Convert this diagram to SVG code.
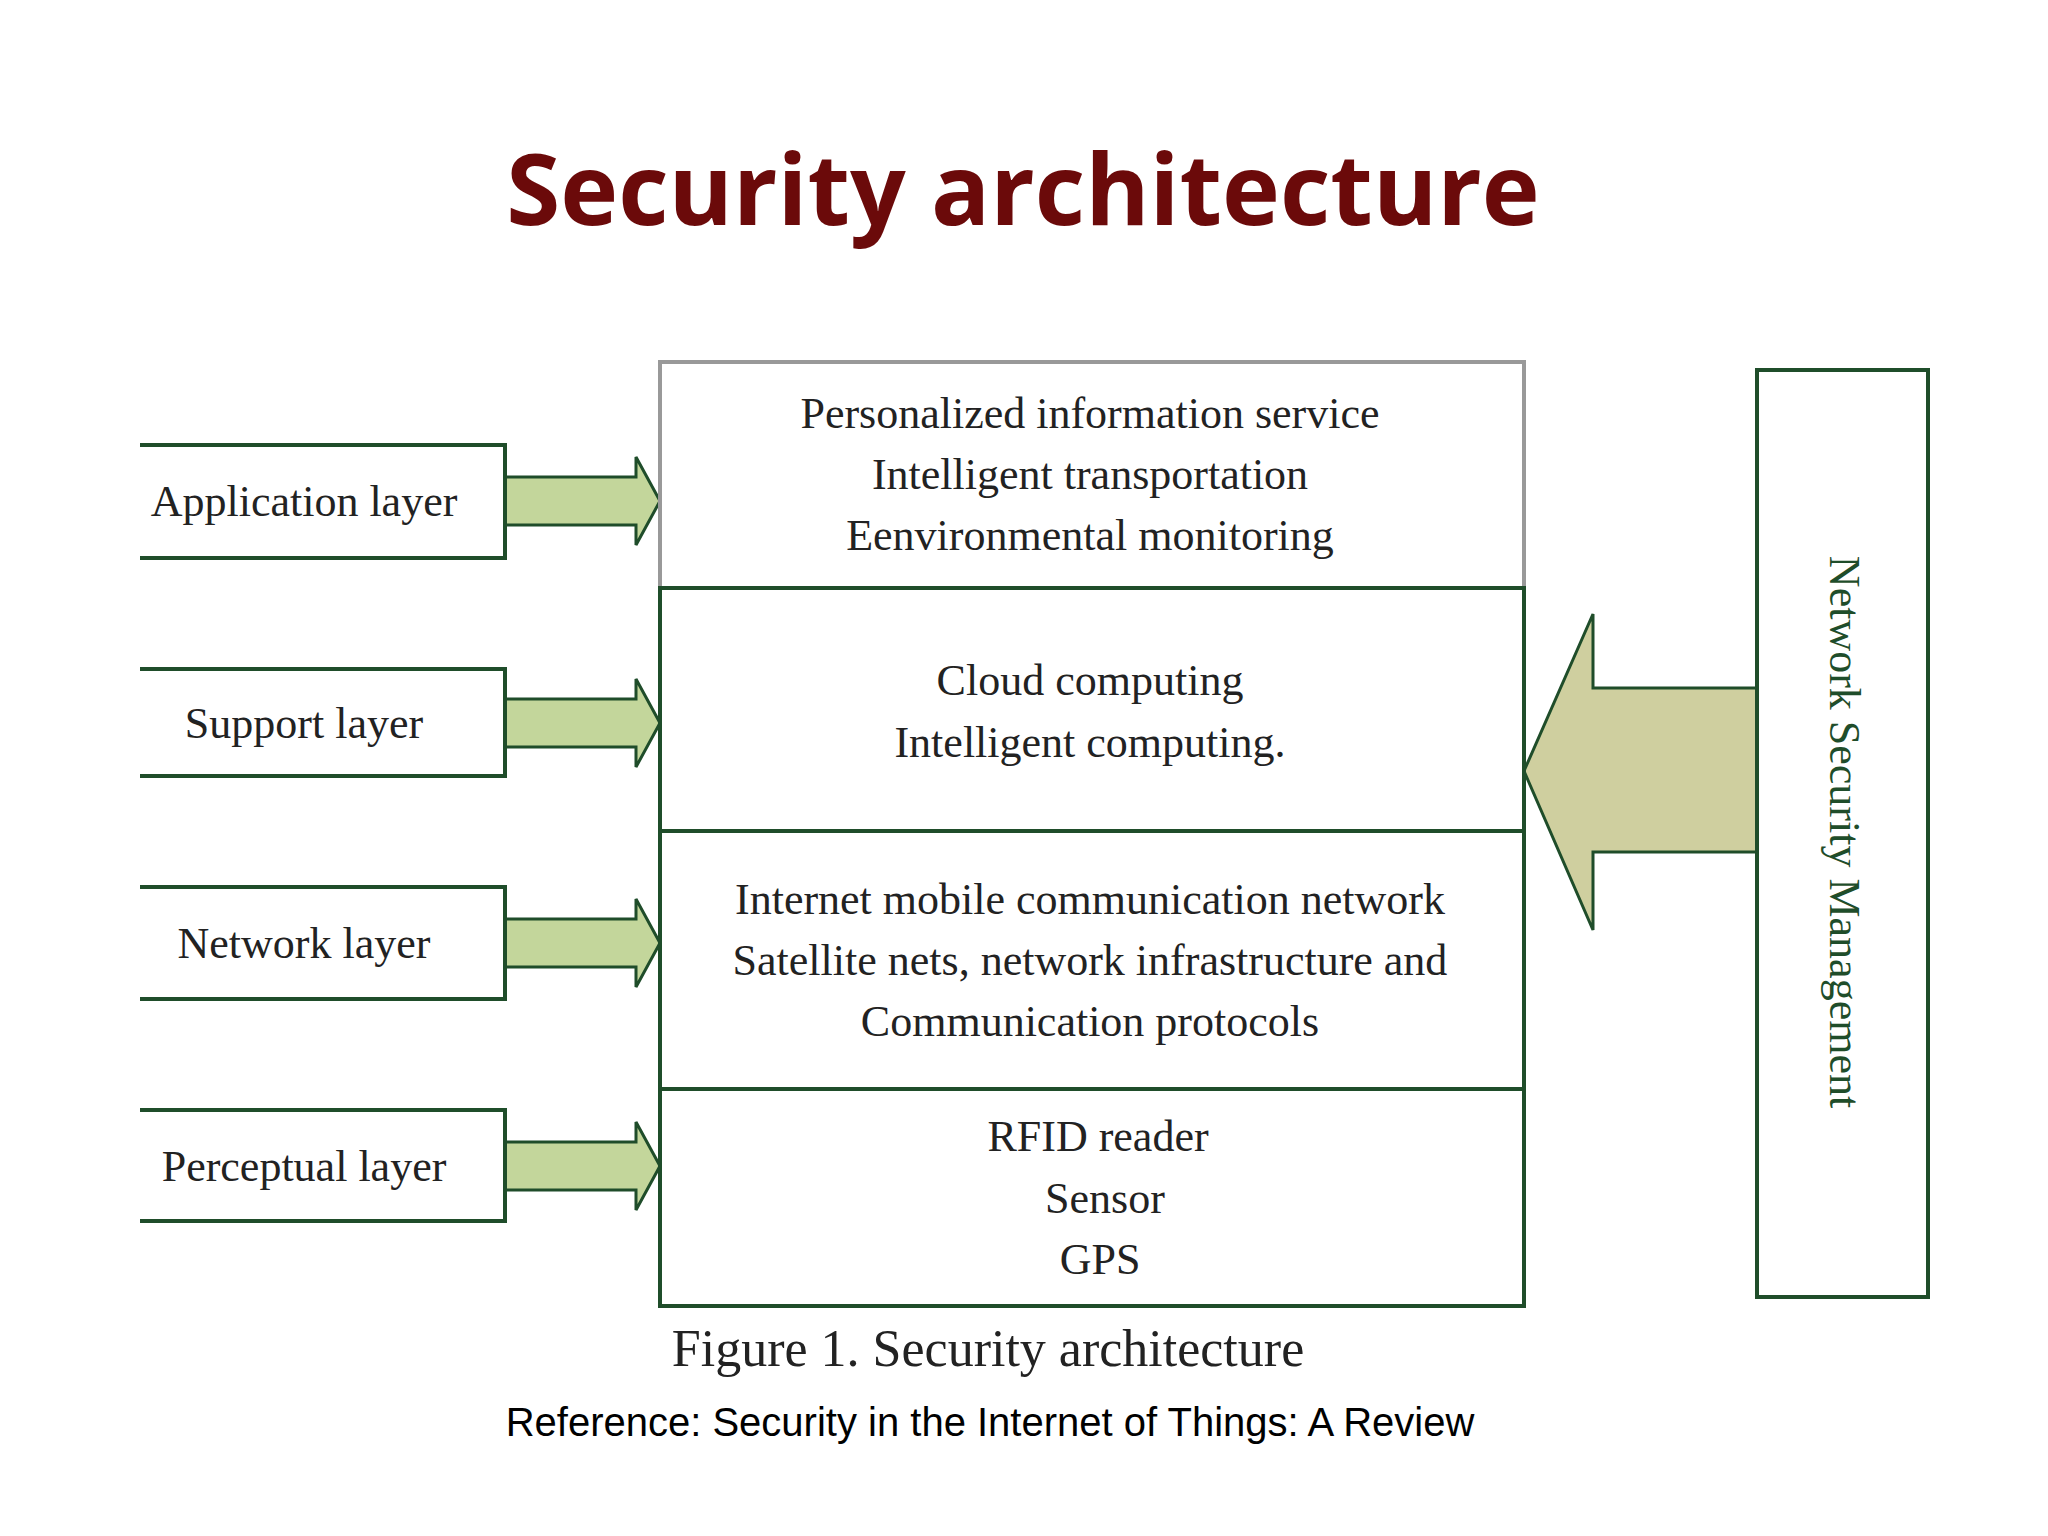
<svg xmlns="http://www.w3.org/2000/svg" width="2048" height="1536" viewBox="0 0 2048 1536">
<style>
.bx{fill:#fff;stroke:#1f4d2a;stroke-width:4}
.lb{fill:#fff;stroke:#1f4d2a;stroke-width:4}
.t{font-family:"Liberation Serif",serif;font-size:44px;fill:#222;text-anchor:middle;dominant-baseline:central}
.ar{fill:#c3d69b;stroke:#1f4d2a;stroke-width:3}
</style>
<rect width="2048" height="1536" fill="#fff"/>
<text x="1023" y="225" font-family="Open Sans, sans-serif" font-weight="bold" font-size="98" fill="#6b0a0a" text-anchor="middle">Security architecture</text>
<g id="connectors">
<path class="ar" d="M505,477 H636 V457 L660,501 L636,545 V525 H505 Z"/>
<path class="ar" d="M505,699 H636 V679 L660,723 L636,767 V747 H505 Z"/>
<path class="ar" d="M505,919 H636 V899 L660,943 L636,987 V967 H505 Z"/>
<path class="ar" d="M505,1142 H636 V1122 L660,1166 L636,1210 V1190 H505 Z"/>
<path d="M1757,688 H1593 V614 L1524,771 L1593,930 V852 H1757 Z" fill="#cfcf9f" stroke="#1f4d2a" stroke-width="3"/>
</g>
<g id="app"><path class="lb" d="M140,445 H505 V558 H140"/><text class="t" x="304" y="501">Application layer</text></g>
<g id="sup"><path class="lb" d="M140,669 H505 V776 H140"/><text class="t" x="304" y="723">Support layer</text></g>
<g id="net"><path class="lb" d="M140,887 H505 V999 H140"/><text class="t" x="304" y="943">Network layer</text></g>
<g id="per"><path class="lb" d="M140,1110 H505 V1221 H140"/><text class="t" x="304" y="1166">Perceptual  layer</text></g>
<g id="c1"><rect x="660" y="362" width="864" height="226" fill="#fff" stroke="#999" stroke-width="4"/>
<text class="t" x="1090" y="413">Personalized information service</text><text class="t" x="1090" y="474">Intelligent transportation</text><text class="t" x="1090" y="535">Eenvironmental monitoring</text></g>
<g id="c2"><rect class="bx" x="660" y="588" width="864" height="243"/>
<text class="t" x="1090" y="680">Cloud computing</text><text class="t" x="1090" y="742">Intelligent computing.</text></g>
<g id="c3"><rect class="bx" x="660" y="831" width="864" height="258"/>
<text class="t" x="1090" y="899">Internet  mobile communication network</text><text class="t" x="1090" y="960">Satellite nets, network infrastructure and</text><text class="t" x="1090" y="1021">Communication protocols</text></g>
<g id="c4"><rect class="bx" x="660" y="1089" width="864" height="217"/>
<text class="t" x="1098" y="1136">RFID reader</text><text class="t" x="1105" y="1198">Sensor</text><text class="t" x="1100" y="1259">GPS</text></g>
<g id="nsm"><rect class="bx" x="1757" y="370" width="171" height="927"/>
<text class="t" transform="translate(1844,832) rotate(90)" x="0" y="0" style="fill:#1f4d2a">Network Security Management</text></g>
<text class="t" x="988" y="1348" style="font-size:52px">Figure 1.  Security architecture</text>
<text x="990" y="1436" font-family="Liberation Sans, sans-serif" font-size="40" fill="#000" text-anchor="middle">Reference: Security in the Internet of Things: A Review</text>
</svg>
